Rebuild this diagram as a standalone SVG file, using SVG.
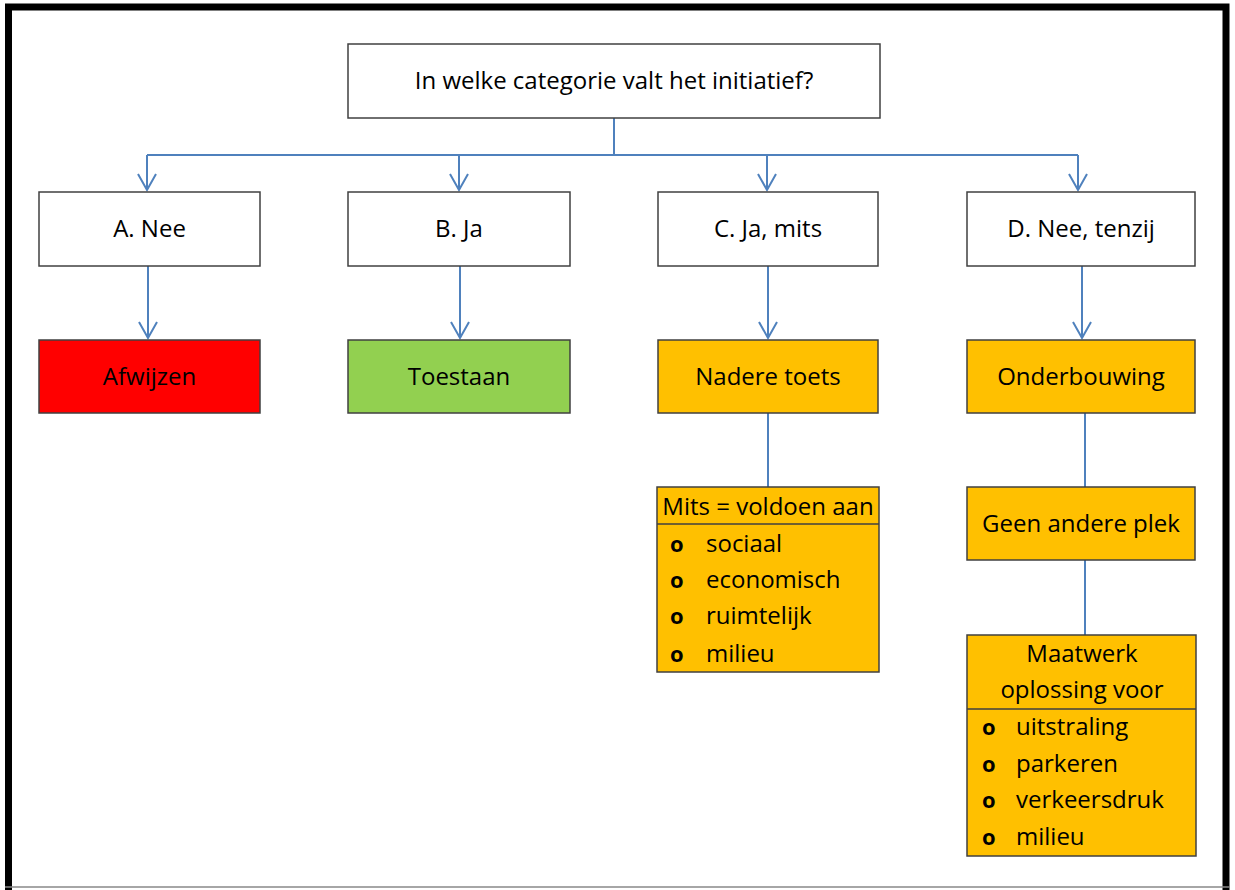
<svg xmlns="http://www.w3.org/2000/svg" width="1235" height="890" viewBox="0 0 1235 890">
<style>
text{font-family:"Open Sans","Liberation Sans",sans-serif;font-size:24px;fill:#000}
.c{text-anchor:middle}
.b{font-weight:bold;font-size:22px}
.box{stroke:#404040;stroke-width:1.5}
.w{fill:#fff}
.red{fill:#ff0000}
.green{fill:#92d050}
.org{fill:#ffc000}
.con{fill:none;stroke:#4f81bd;stroke-width:2}
</style>
<defs>
<marker id="arr" markerUnits="userSpaceOnUse" viewBox="-18 -11 20 22" markerWidth="20" markerHeight="22" refX="0" refY="0" orient="auto" overflow="visible">
<path d="M-16,-9 L0,0 L-16,9" fill="none" stroke="#4f81bd" stroke-width="2"/>
</marker>
</defs>
<rect width="1235" height="890" fill="#fff"/>
<path d="M8.5,890 V7 H1226 V890" fill="none" stroke="#000" stroke-width="7"/>
<line x1="5" y1="887" x2="1230" y2="887" stroke="#888" stroke-width="1.5"/>

<g id="connectors">
<path class="con" d="M614,118 V155 M147,155 H1078"/>
<path class="con" marker-end="url(#arr)" d="M147,155 V190"/>
<path class="con" marker-end="url(#arr)" d="M459,155 V190"/>
<path class="con" marker-end="url(#arr)" d="M767,155 V190"/>
<path class="con" marker-end="url(#arr)" d="M1078,155 V190"/>
<path class="con" marker-end="url(#arr)" d="M148,266 V338"/>
<path class="con" marker-end="url(#arr)" d="M460,266 V338"/>
<path class="con" marker-end="url(#arr)" d="M768,266 V338"/>
<path class="con" marker-end="url(#arr)" d="M1082,266 V338"/>
<path class="con" d="M768,413 V487"/>
<path class="con" d="M1085,413 V487"/>
<path class="con" d="M1085,560 V635"/>
</g>

<g id="q">
<rect class="box w" x="348" y="44" width="532" height="74"/>
<text class="c" x="614" y="89">In welke categorie valt het initiatief?</text>
</g>
<g id="a">
<rect class="box w" x="39" y="192" width="221" height="74"/>
<text class="c" x="149.5" y="237">A. Nee</text>
</g>
<g id="b">
<rect class="box w" x="348" y="192" width="222" height="74"/>
<text class="c" x="459" y="237">B. Ja</text>
</g>
<g id="c">
<rect class="box w" x="658" y="192" width="220" height="74"/>
<text class="c" x="768" y="237">C. Ja, mits</text>
</g>
<g id="d">
<rect class="box w" x="967" y="192" width="228" height="74"/>
<text class="c" x="1081" y="237">D. Nee, tenzij</text>
</g>
<g id="afwijzen">
<rect class="box red" x="39" y="340" width="221" height="73"/>
<text class="c" x="149.5" y="385">Afwijzen</text>
</g>
<g id="toestaan">
<rect class="box green" x="348" y="340" width="222" height="73"/>
<text class="c" x="459" y="385">Toestaan</text>
</g>
<g id="nadere">
<rect class="box org" x="658" y="340" width="220" height="73"/>
<text class="c" x="768" y="385">Nadere toets</text>
</g>
<g id="onderbouwing">
<rect class="box org" x="967" y="340" width="228" height="73"/>
<text class="c" x="1081" y="385">Onderbouwing</text>
</g>
<g id="mits">
<rect class="box org" x="657" y="487" width="222" height="185"/>
<line class="box" x1="657" y1="524" x2="879" y2="524"/>
<text class="c" x="768" y="515">Mits = voldoen aan</text>
<text class="b" x="670" y="552">o</text><text x="706" y="552">sociaal</text>
<text class="b" x="670" y="588">o</text><text x="706" y="588">economisch</text>
<text class="b" x="670" y="624">o</text><text x="706" y="624">ruimtelijk</text>
<text class="b" x="670" y="662">o</text><text x="706" y="662">milieu</text>
</g>
<g id="geen">
<rect class="box org" x="967" y="487" width="228" height="73"/>
<text class="c" x="1081" y="532">Geen andere plek</text>
</g>
<g id="maatwerk">
<rect class="box org" x="967" y="635" width="229" height="221"/>
<line class="box" x1="967" y1="709" x2="1196" y2="709"/>
<text class="c" x="1082" y="662">Maatwerk</text>
<text class="c" x="1082" y="698">oplossing voor</text>
<text class="b" x="982" y="735">o</text><text x="1016" y="735">uitstraling</text>
<text class="b" x="982" y="772">o</text><text x="1016" y="772">parkeren</text>
<text class="b" x="982" y="808">o</text><text x="1016" y="808">verkeersdruk</text>
<text class="b" x="982" y="845">o</text><text x="1016" y="845">milieu</text>
</g>
</svg>
